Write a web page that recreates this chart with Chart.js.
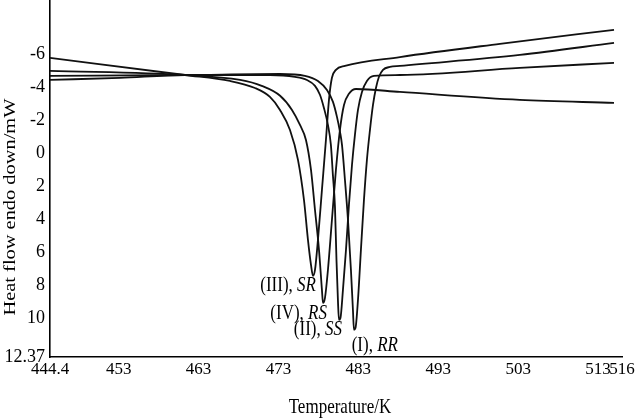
<!DOCTYPE html>
<html>
<head>
<meta charset="utf-8">
<script src="https://cdn.jsdelivr.net/npm/chart.js@4"></script>
<style>
  html, body { margin: 0; padding: 0; background: #fff; }
</style>
</head>
<body>
<canvas id="chart" width="640" height="419"></canvas>
<script>
var xTicks = [444.4, 453, 463, 473, 483, 493, 503, 513, 516];
var yTicks = [-6, -4, -2, 0, 2, 4, 6, 8, 10, 12.37];

// (III) SR
var srT = [444.4, 461.3, 466.93, 470.06, 471.93, 473.19, 474.44, 475.44, 476.19, 476.69, 477.07, 477.32, 477.57, 477.94, 478.44, 478.94, 479.32, 479.69, 480.19, 481.32, 488.2, 500.72, 515.0];
var srH = [-5.78, -4.74, -4.38, -3.95, -3.41, -2.62, -1.40, 0.41, 2.84, 5.26, 6.78, 7.45, 7.09, 5.26, 2.23, -0.80, -3.23, -4.57, -5.05, -5.29, -5.83, -6.63, -7.48];
// (IV) RS
var rsT = [444.4, 461.3, 468.2, 470.9, 473.2, 474.69, 475.69, 476.44, 477.07, 477.57, 478.07, 478.44, 478.57, 478.82, 479.19, 479.69, 480.19, 480.69, 481.2, 481.82, 482.7, 488.2, 503.2, 515.0];
var rsH = [-4.99, -4.74, -4.44, -4.08, -3.48, -2.62, -1.71, -0.80, 1.02, 3.45, 5.87, 8.30, 9.09, 8.78, 7.09, 4.06, 1.02, -1.40, -2.92, -3.60, -3.89, -3.71, -3.23, -3.05];
// (II) SS
var ssT = [444.4, 453.16, 461.3, 471.93, 475.06, 476.56, 477.57, 478.19, 478.69, 479.19, 479.56, 479.81, 480.07, 480.26, 480.44, 480.57, 480.76, 481.07, 481.45, 481.82, 482.2, 482.57, 482.95, 483.45, 484.07, 484.95, 488.2, 503.2, 515.0];
var ssH = [-4.44, -4.57, -4.74, -4.74, -4.63, -4.44, -4.08, -3.54, -2.74, -1.71, -0.50, 1.32, 3.26, 6.48, 8.91, 10.12, 10.00, 8.30, 5.87, 3.14, 0.72, -1.11, -2.62, -3.71, -4.38, -4.69, -4.74, -5.17, -5.48];
// (I) RR
var rrT = [444.4, 461.3, 473.19, 476.31, 477.94, 479.07, 479.82, 480.32, 480.7, 480.95, 481.32, 481.7, 482.07, 482.32, 482.45, 482.64, 482.95, 483.32, 483.7, 484.07, 484.45, 484.83, 485.2, 485.58, 486.08, 486.95, 488.2, 503.22, 515.0];
var rrH = [-4.69, -4.74, -4.80, -4.69, -4.38, -3.83, -3.11, -2.20, -1.29, -0.50, 1.63, 4.06, 7.09, 9.52, 10.72, 10.61, 8.91, 5.87, 2.84, 0.41, -1.40, -2.92, -3.95, -4.63, -5.05, -5.23, -5.29, -5.96, -6.69];

// peak labels: roman numeral + sample, anchored (right edge) in data units
var peakNames = ["(III), ", "(IV), ", "(II), ", "(I), "];
var peakCodes = ["SR", "RS", "SS", "RR"];
var peakLabelT = [477.69, 479.07, 480.95, 487.95];
var peakLabelH = [8.06, 9.75, 10.72, 11.70];

var serif = "'Liberation Serif', 'Times New Roman', serif";

function toPoints(xs, ys) {
  return xs.map(function(x, i) { return { x: x, y: ys[i] }; });
}

function curve(label, xs, ys) {
  return {
    label: label,
    data: toPoints(xs, ys),
    borderColor: "#111",
    borderWidth: 1.8,
    pointRadius: 0,
    fill: false,
    cubicInterpolationMode: "monotone"
  };
}

// the scanned original has its lettering a bit taller than wide
var stretch = 1.2;

var textPlugin = {
  id: "texts",
  afterDatasetsDraw: function(chart) {
    var ctx = chart.ctx,
      xs = chart.scales.x,
      ys = chart.scales.y,
      area = chart.chartArea;
    ctx.save();
    ctx.fillStyle = "#000";
    ctx.textBaseline = "middle";
    ctx.textAlign = "left";

    // peak labels
    for (var i = 0; i < peakNames.length; i++) {
      var px = xs.getPixelForValue(peakLabelT[i]);
      var py = ys.getPixelForValue(peakLabelH[i]);
      ctx.font = "italic 17px " + serif;
      var cw = ctx.measureText(peakCodes[i]).width;
      ctx.font = "17px " + serif;
      var nw = ctx.measureText(peakNames[i]).width;
      ctx.save();
      ctx.translate(px, py);
      ctx.scale(1, stretch);
      ctx.fillText(peakNames[i], -cw - nw, 0);
      ctx.font = "italic 17px " + serif;
      ctx.fillText(peakCodes[i], -cw, 0);
      ctx.restore();
    }

    // axis titles
    ctx.font = "17px " + serif;
    ctx.textAlign = "center";
    ctx.save();
    ctx.translate((area.left + area.right) / 2 + 4, 408);
    ctx.scale(1, stretch);
    ctx.fillText("Temperature/K", 0, 0);
    ctx.restore();

    ctx.translate(11, 207);
    ctx.rotate(-Math.PI / 2);
    ctx.scale(stretch, 1);
    ctx.fillText("Heat flow endo down/mW", 0, 0);
    ctx.restore();
  }
};

var ctx = document.getElementById("chart");
var myChart = new Chart(ctx, {
  type: "line",
  data: {
    datasets: [
      curve("(III), SR", srT, srH),
      curve("(IV), RS", rsT, rsH),
      curve("(II), SS", ssT, ssH),
      curve("(I), RR", rrT, rrH)
    ]
  },
  options: {
    responsive: false,
    animation: false,
    devicePixelRatio: 1,
    layout: { padding: { left: 0, right: 18, top: 0, bottom: 0 } },
    plugins: {
      legend: { display: false },
      tooltip: { enabled: false }
    },
    scales: {
      x: {
        type: "linear",
        min: 444.4,
        max: 516,
        grid: { display: false, drawTicks: false },
        border: { display: true, color: "#000", width: 1.6 },
        ticks: {
          padding: 2,
          color: "#000",
          autoSkip: false,
          maxRotation: 0,
          font: { family: serif, size: 17 },
          callback: function(v) { return String(v); }
        },
        afterBuildTicks: function(s) {
          s.ticks = xTicks.map(function(v) { return { value: v }; });
        },
        afterFit: function(s) {
          s.height = 62;
          s.paddingLeft = 0;
          s.paddingRight = 0;
        }
      },
      y: {
        type: "linear",
        reverse: true,
        min: -9.29,
        max: 12.37,
        grid: { display: false, drawTicks: false },
        border: { display: true, color: "#000", width: 1.6 },
        ticks: {
          padding: 5,
          color: "#000",
          autoSkip: false,
          font: { family: serif, size: 18 },
          callback: function(v) { return String(v); }
        },
        afterBuildTicks: function(s) {
          s.ticks = yTicks.map(function(v) { return { value: v }; });
        },
        afterFit: function(s) {
          s.width = 50;
          s.paddingTop = 0;
          s.paddingBottom = 0;
        }
      }
    }
  },
  plugins: [textPlugin]
});
</script>
</body>
</html>
